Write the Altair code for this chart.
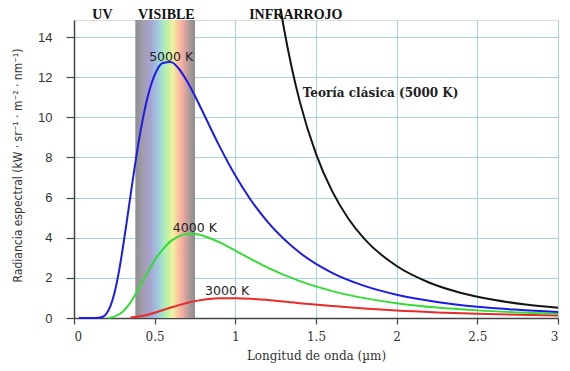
import altair as alt
import pandas as pd

# --- data (wavelength in µm, radiance in kW·sr⁻¹·m⁻²·nm⁻¹) ---
lam_5000 = [0.03, 0.1, 0.15, 0.175, 0.2, 0.225, 0.25, 0.275, 0.3, 0.325, 0.35, 0.4, 0.45, 0.5, 0.55,
            0.6, 0.65, 0.7, 0.75, 0.8, 0.9, 1.0, 1.1, 1.2, 1.4, 1.6, 1.8, 2.0, 2.25, 2.5, 2.75, 3.0]
rad_5000 = [0.0, 0.0, 0.01, 0.05, 0.21, 0.58, 1.22, 2.16, 3.35, 4.69, 6.09, 8.74, 10.80, 12.11, 12.71,
            12.76, 12.42, 11.81, 11.06, 10.24, 8.59, 7.10, 5.83, 4.79, 3.25, 2.25, 1.60, 1.16, 0.80, 0.56, 0.41, 0.30]

lam_4000 = [0.21, 0.25, 0.3, 0.35, 0.4, 0.45, 0.5, 0.55, 0.6, 0.65, 0.7, 0.75, 0.8, 0.9, 1.0,
            1.1, 1.2, 1.4, 1.6, 1.8, 2.0, 2.25, 2.5, 2.75, 3.0]
rad_4000 = [0.0, 0.07, 0.30, 0.78, 1.45, 2.18, 2.87, 3.42, 3.83, 4.07, 4.18, 4.18, 4.10, 3.78, 3.36,
            2.92, 2.51, 1.84, 1.34, 0.99, 0.74, 0.52, 0.38, 0.28, 0.21]

lam_3000 = [0.35, 0.4, 0.45, 0.5, 0.55, 0.6, 0.65, 0.7, 0.75, 0.8, 0.9, 1.0, 1.1, 1.2, 1.4,
            1.6, 1.8, 2.0, 2.25, 2.5, 2.75, 3.0]
rad_3000 = [0.03, 0.07, 0.15, 0.26, 0.39, 0.52, 0.64, 0.75, 0.84, 0.91, 0.98, 0.99, 0.96, 0.90, 0.74,
            0.60, 0.47, 0.37, 0.28, 0.21, 0.16, 0.12]

lam_clasica = [1.28, 1.3, 1.35, 1.4, 1.5, 1.6, 1.7, 1.8, 2.0, 2.2, 2.4, 2.6, 2.8, 3.0]
rad_clasica = [15.42, 14.49, 12.46, 10.77, 8.18, 6.32, 4.96, 3.94, 2.59, 1.77, 1.25, 0.91, 0.67, 0.51]

series_names = ["Teoría clásica (5000 K)", "3000 K", "4000 K", "5000 K"]
series_colors = ["#141414", "#e82a2a", "#35dc35", "#1c1ce8"]

visible_band = [0.38, 0.75]
y_max = 14.85

x_ticks = [0, 0.5, 1, 1.5, 2, 2.5, 3]
y_ticks = [0, 2, 4, 6, 8, 10, 12, 14]

curve_labels = ["5000 K", "4000 K", "3000 K"]
curve_label_x = [0.602, 0.749, 0.949]
curve_label_y = [13.0, 4.48, 1.345]

region_labels = ["UV", "VISIBLE", "INFRARROJO"]
region_label_x = [0.176, 0.572, 1.375]
region_label_y = [15.1, 15.1, 15.1]

classic_label = ["Teoría clásica (5000 K)"]
classic_label_x = [1.418]
classic_label_y = [11.21]

# --- tables ---
rows = []
for name, lams, rads in [("Teoría clásica (5000 K)", lam_clasica, rad_clasica),
                         ("3000 K", lam_3000, rad_3000),
                         ("4000 K", lam_4000, rad_4000),
                         ("5000 K", lam_5000, rad_5000)]:
    for i, (l, r) in enumerate(zip(lams, rads)):
        rows.append({"x": l, "y": r, "serie": name, "i": i})
curves = pd.DataFrame(rows)

band = pd.DataFrame({"x": [visible_band[0]], "x2": [visible_band[1]], "y": [0], "y2": [y_max]})
lab_curves = pd.DataFrame({"x": curve_label_x, "y": curve_label_y, "t": curve_labels})
lab_regions = pd.DataFrame({"x": region_label_x, "y": region_label_y, "t": region_labels})
lab_classic = pd.DataFrame({"x": classic_label_x, "y": classic_label_y, "t": classic_label})

W = 484
xscale = alt.Scale(domain=[0, 3], nice=False, zero=False)
yscale = alt.Scale(domain=[0, y_max], nice=False)

xaxis = alt.Axis(values=x_ticks, format=".1~f", title="Longitud de onda (µm)",
                 titleFont="DejaVu Serif", titleFontSize=12, titleFontWeight="normal", titleColor="#333",
                 titleX=W / 2, titleY=37, titleBaseline="middle", titleAlign="center",
                 labelFont="DejaVu Serif", labelFontSize=12, labelColor="#333", labelPadding=7,
                 tickSize=6, tickColor="#444", tickWidth=1.2, domainColor="#444", domainWidth=1.5,
                 grid=True, gridColor="#a9d3e3", gridWidth=1, gridOpacity=1)
yaxis = alt.Axis(values=y_ticks, title="Radiancia espectral (kW · sr⁻¹ · m⁻² · nm⁻¹)",
                 titleFont="Liberation Sans Narrow, DejaVu Sans Condensed, sans-serif", titleFontSize=12,
                 titleFontWeight="normal", titleColor="#333",
                 titleX=-57, titleY=145, titleAngle=-90, titleBaseline="middle", titleAlign="center",
                 labelFont="Liberation Sans", labelFontSize=13, labelColor="#333", labelPadding=14,
                 tickSize=8, tickColor="#444", tickWidth=1.2, domainColor="#444", domainWidth=1.5,
                 grid=True, gridColor="#a9d3e3", gridWidth=1, gridOpacity=1)

X = alt.X("x:Q", scale=xscale, axis=xaxis)
Y = alt.Y("y:Q", scale=yscale, axis=yaxis)

gradient = alt.Gradient(
    gradient="linear", x1=0, x2=1, y1=0, y2=0,
    stops=[
        alt.GradientStop(color="#8f8f8f", offset=0.0),
        alt.GradientStop(color="#a29cab", offset=0.12),
        alt.GradientStop(color="#a6a2d0", offset=0.25),
        alt.GradientStop(color="#a0c6e0", offset=0.37),
        alt.GradientStop(color="#a8e8c4", offset=0.47),
        alt.GradientStop(color="#c4f2a0", offset=0.55),
        alt.GradientStop(color="#f4f0a2", offset=0.63),
        alt.GradientStop(color="#f8c49e", offset=0.72),
        alt.GradientStop(color="#f0a8a2", offset=0.80),
        alt.GradientStop(color="#b09c9a", offset=0.90),
        alt.GradientStop(color="#8e8e8e", offset=1.0),
    ],
)

band_layer = alt.Chart(band).mark_rect(color=gradient).encode(
    x=X, x2=alt.X2("x2"), y=Y, y2=alt.Y2("y2"))

line_layer = alt.Chart(curves).mark_line(strokeWidth=2, interpolate="monotone", clip=False).encode(
    x=X, y=Y,
    color=alt.Color("serie:N", scale=alt.Scale(domain=series_names, range=series_colors), legend=None),
    detail="serie:N", order="i:Q")

curve_text = alt.Chart(lab_curves).mark_text(font="DejaVu Sans", fontSize=12.5, color="#222",
                                             align="center", baseline="middle").encode(
    x=X, y=Y, text="t:N")

region_text = alt.Chart(lab_regions).mark_text(font="Liberation Serif", fontSize=14, fontWeight="bold",
                                               color="#111", align="center", baseline="middle").encode(
    x=X, y=Y, text="t:N")

classic_text = alt.Chart(lab_classic).mark_text(font="DejaVu Serif", fontSize=12, fontWeight="bold",
                                                color="#222", align="left", baseline="middle").encode(
    x=X, y=Y, text="t:N")

chart = alt.layer(band_layer, line_layer, curve_text, region_text, classic_text).properties(
    width=W, height=298,
    autosize=alt.AutoSizeParams(type="none"),
    padding={"left": 66, "top": 12, "right": 4, "bottom": 45},
).configure_view(stroke=None).configure(background="white")

chart.save("out.html", embed_options={"renderer": "svg", "actions": False})
